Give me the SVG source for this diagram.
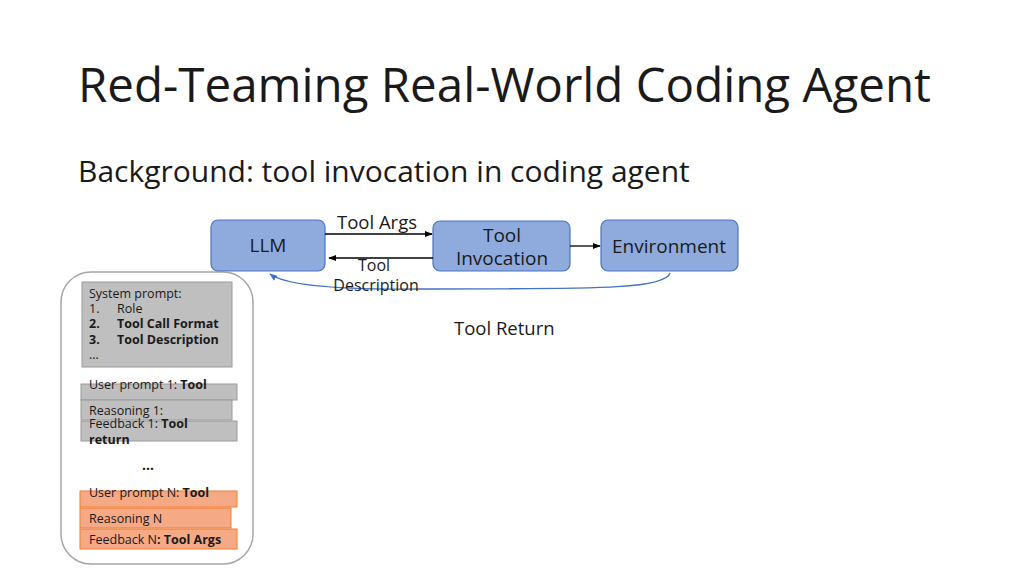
<svg xmlns="http://www.w3.org/2000/svg" width="1024" height="575" viewBox="0 0 1024 575">
<style>
text{font-family:"Open Sans","Noto Sans",sans-serif;fill:#1a1a1a}
.nb{fill:#8faadc;stroke:#4a72c4;stroke-width:1.2}
.gb{fill:#bfbfbf;stroke:#9a9a9a}
.ob{fill:#f5a984;stroke:#ed7d31}
.n{font-size:19px;text-anchor:middle}
.s{font-size:12.5px}
.l{font-size:18.5px}
.c{stroke:#000;stroke-width:1.3;fill:none;marker-end:url(#a)}
</style>
<defs>
<marker id="a" viewBox="0 0 10 10" refX="9" refY="5" markerWidth="6" markerHeight="6" orient="auto"><path d="M0,1L10,5L0,9z" fill="#000"/></marker>
<marker id="b" viewBox="0 0 10 10" refX="9" refY="5" markerWidth="6" markerHeight="6" orient="auto"><path d="M0,1L10,5L0,9z" fill="#4472c4"/></marker>
</defs>
<rect width="1024" height="575" fill="#fff"/>
<text x="78" y="102" font-size="47.5">Red-Teaming Real-World Coding Agent</text>
<text x="78" y="182" font-size="30">Background: tool invocation in coding agent</text>
<g id="container"><rect x="61" y="272" width="192" height="292" rx="30" fill="#fff" stroke="#a6a6a6" stroke-width="1.5"/></g>
<g id="llm"><rect class="nb" x="211" y="220" width="114" height="51" rx="7"/><text class="n" x="268" y="252">LLM</text></g>
<g id="toolinv"><rect class="nb" x="433" y="221" width="137" height="50" rx="7"/><text class="n" x="502" y="242">Tool</text><text class="n" x="502" y="265">Invocation</text></g>
<g id="env"><rect class="nb" x="601" y="220" width="137" height="51" rx="7"/><text class="n" x="669" y="253">Environment</text></g>
<g id="connectors">
<path class="c" d="M325,234H432"/>
<path class="c" d="M433,258H329"/>
<path class="c" d="M570,246H600"/>
<path d="M670,273C665,292 560,288 420,289C330,290 285,285 270,274" fill="none" stroke="#4472c4" stroke-width="1.3" marker-end="url(#b)"/>
</g>
<text class="l" x="337" y="229">Tool  Args</text>
<text x="374" y="271" text-anchor="middle" font-size="16">Tool</text>
<text x="376" y="291" text-anchor="middle" font-size="16">Description</text>
<text class="l" x="454" y="335">Tool  Return</text>
<g id="sys"><rect class="gb" x="82" y="282" width="150" height="85"/>
<text class="s" x="89" y="298">System prompt:</text>
<text class="s" x="89" y="313">1.<tspan x="117">Role</tspan></text>
<text class="s" x="89" y="328" font-weight="bold">2.<tspan x="117">Tool Call Format</tspan></text>
<text class="s" x="89" y="344" font-weight="bold">3.<tspan x="117">Tool Description</tspan></text>
<text class="s" x="89" y="359">…</text></g>
<g id="u1"><rect class="gb" x="81" y="384" width="156" height="16"/><text class="s" x="89" y="389">User prompt 1: <tspan font-weight="bold">Tool</tspan></text></g>
<g id="r1"><rect class="gb" x="81" y="400" width="151" height="20"/><text class="s" x="89" y="415">Reasoning 1:</text></g>
<g id="f1"><rect class="gb" x="81" y="421" width="156" height="20"/><text class="s" x="89" y="428">Feedback 1: <tspan font-weight="bold">Tool</tspan></text><text class="s" x="89" y="444" font-weight="bold">return</text></g>
<text x="148" y="470" font-size="14" font-weight="bold" text-anchor="middle">…</text>
<g id="un"><rect class="ob" x="80" y="491" width="157" height="16"/><text class="s" x="89" y="497">User prompt N: <tspan font-weight="bold">Tool</tspan></text></g>
<g id="rn"><rect class="ob" x="80" y="508" width="151" height="20"/><text class="s" x="89" y="523">Reasoning N</text></g>
<g id="fn"><rect class="ob" x="80" y="529" width="157" height="20"/><text class="s" x="89" y="544">Feedback N<tspan font-weight="bold">: Tool Args</tspan></text></g>
</svg>
